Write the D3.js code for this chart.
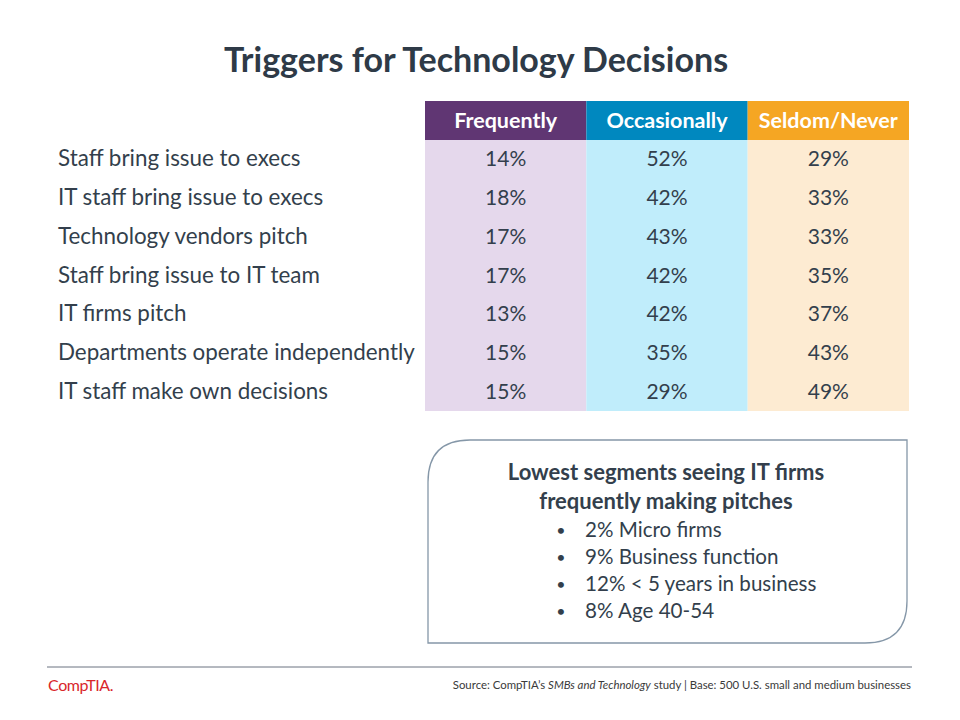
<!DOCTYPE html>
<html><head><meta charset="utf-8">
<script src="https://cdn.jsdelivr.net/npm/d3@7"></script>
<style>body{margin:0;background:#fff}svg{display:block}</style>
</head><body>
<script>
const categories = ["Staff bring issue to execs","IT staff bring issue to execs","Technology vendors pitch","Staff bring issue to IT team","IT firms pitch","Departments operate independently","IT staff make own decisions"];
const columns = ["Frequently","Occasionally","Seldom/Never"];
const frequently = [14,18,17,17,13,15,15];
const occasionally = [52,42,43,42,42,35,29];
const seldomNever = [29,33,33,35,37,43,49];
const calloutTitle = ["Lowest segments seeing IT firms","frequently making pitches"];
const calloutBullets = ["2% Micro firms","9% Business function","12% < 5 years in business","8% Age 40-54"];

const W=960,H=720;
const font="Lato, 'Open Sans', sans-serif";
const textCol="#333f4c";
const svg=d3.select("body").append("svg").attr("width",W).attr("height",H);

svg.append("text").attr("x",476).attr("y",72).attr("text-anchor","middle")
  .attr("font-family",font).attr("font-weight","bold").attr("font-size",34).attr("fill","#2e3a47")
  .text("Triggers for Technology Decisions");

const x=d3.scaleBand().domain(columns).range([425,909]).paddingInner(0);
const y=d3.scaleBand().domain(categories).range([140,411]);
const headColors=["#603673","#0088bf","#f5a623"];
const cellColors=["#e5d8ec","#c0edfb","#fdebd2"];
const series=[frequently,occasionally,seldomNever];

columns.forEach((c,i)=>{
  svg.append("rect").attr("x",x(c)).attr("y",101).attr("width",x.bandwidth()).attr("height",39).attr("fill",headColors[i]);
  svg.append("text").attr("x",x(c)+x.bandwidth()/2).attr("y",128).attr("text-anchor","middle")
    .attr("font-family",font).attr("font-weight","bold").attr("font-size",21.5).attr("fill","#fff").text(c);
  svg.append("rect").attr("x",x(c)).attr("y",y.range()[0]).attr("width",x.bandwidth()).attr("height",y.range()[1]-y.range()[0]).attr("fill",cellColors[i]);
  svg.selectAll(null).data(series[i]).enter().append("text")
    .attr("x",x(c)+x.bandwidth()/2).attr("y",(d,j)=>y(categories[j])+y.bandwidth()/2+7)
    .attr("text-anchor","middle").attr("font-family",font).attr("font-size",21).attr("fill",textCol)
    .text(d=>d+"%");
});
svg.selectAll(null).data(categories).enter().append("text")
  .attr("x",58).attr("y",d=>y(d)+y.bandwidth()/2+7)
  .attr("font-family",font).attr("font-size",22.4).attr("fill",textCol).text(d=>d);

const bx=428,by=440,bw=479,bh=203,r=42;
svg.append("path").attr("d",`M${bx+r},${by} H${bx+bw} V${by+bh-r} Q${bx+bw},${by+bh} ${bx+bw-r},${by+bh} H${bx} V${by+r} Q${bx},${by} ${bx+r},${by} Z`)
  .attr("fill","#fff").attr("stroke","#8597a8").attr("stroke-width",1.3);
calloutTitle.forEach((t,i)=>{
  svg.append("text").attr("x",666).attr("y",480+i*29).attr("text-anchor","middle")
    .attr("font-family",font).attr("font-weight","bold").attr("font-size",22).attr("fill",textCol).text(t);
});
calloutBullets.forEach((t,i)=>{
  svg.append("text").attr("x",561).attr("y",536+i*27).attr("text-anchor","middle")
    .attr("font-family",font).attr("font-size",16).attr("fill",textCol).text("•");
  svg.append("text").attr("x",585).attr("y",537+i*27)
    .attr("font-family",font).attr("font-size",20.6).attr("fill",textCol).text(t);
});

svg.append("line").attr("x1",47).attr("x2",912).attr("y1",667).attr("y2",667).attr("stroke","#6b7380").attr("stroke-width",1);
svg.append("text").attr("x",48).attr("y",691).attr("font-family",font).attr("font-size",16).attr("fill","#d9262b").attr("letter-spacing",-0.4).text("CompTIA.");
const src=svg.append("text").attr("x",911).attr("y",689).attr("text-anchor","end")
  .attr("font-family",font).attr("font-size",11.4).attr("fill","#3a3a3a");
src.append("tspan").text("Source: CompTIA\u2019s ");
src.append("tspan").attr("font-style","italic").text("SMBs and Technology");
src.append("tspan").text(" study | Base: 500 U.S. small and medium businesses");
</script>
</body></html>
